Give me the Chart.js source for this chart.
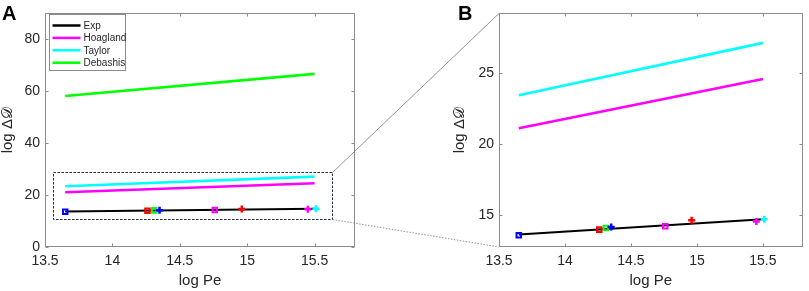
<!DOCTYPE html>
<html><head><meta charset="utf-8">
<script src="https://cdn.jsdelivr.net/npm/chart.js@4/dist/chart.umd.min.js"></script>
<style>
html,body{margin:0;padding:0;background:#fff;overflow:hidden}
#wrap{position:relative;width:809px;height:291px;background:#fff}
#wrap canvas{position:absolute;top:0}
#cA{left:0}
#cB{left:400px}
#ov{left:0;pointer-events:none}
</style></head><body>
<div id="wrap">
<canvas id="cA" width="400" height="291"></canvas>
<canvas id="cB" width="409" height="291"></canvas>
<canvas id="ov" width="809" height="291"></canvas>
</div>
<script>
// ---- data ----
const xTicks = [13.5, 14, 14.5, 15, 15.5];
const yTicksA = [0, 20, 40, 60, 80];
const yTicksB = [15, 20, 25];
const seriesNames = ['Exp', 'Hoagland', 'Taylor', 'Debashis'];
const fitPe = [13.65, 15.5];
const expFit = [13.64, 14.72];
const hoaglandVals = [21.1, 24.56];
const taylorVals = [23.42, 27.1];
const debashisVals = [58.2, 66.7];
const expPe = [13.65, 14.26, 14.31, 14.35, 14.76, 14.96, 15.45, 15.51];
const expVals = [13.6, 13.99, 14.11, 14.18, 14.23, 14.65, 14.56, 14.72];

// ---- styles ----
const FONT = "'Liberation Sans', Arial, 'DejaVu Sans', sans-serif";
const TXT = '#262626';
const FRAME = '#8c8c8c';
const seriesColors = ['#000000', '#ff00ff', '#00ffff', '#00ff00'];
const markerColors = ['#0000ff', '#ff0000', '#00ff00', '#0000ff', '#ff00ff', '#ff0000', '#ff00ff', '#00ffff'];
const markerShapes = ['rect', 'rect', 'rect', 'cross', 'rect', 'cross', 'cross', 'cross'];
const zoomBox = {x0: 13.56, x1: 15.63, y0: 10.7, y1: 29.0};
const yTitle = 'log Δ𝒟';

function toPts(xs, ys) { return xs.map((x, i) => ({x: x, y: ys[i]})); }

function buildDatasets() {
  const ds = [{
    label: 'Exp points', isMarker: true,
    data: toPts(expPe, expVals), showLine: false,
    pointStyle: markerShapes,
    pointRadius: markerShapes.map(s => s === 'rect' ? 3.2 : 3.5),
    pointBorderColor: markerColors,
    pointBackgroundColor: 'rgba(0,0,0,0)',
    pointBorderWidth: markerShapes.map(s => s === 'rect' ? 2 : 2.5),
    order: 0
  }];
  const vals = [expFit, hoaglandVals, taylorVals, debashisVals];
  seriesNames.forEach((n, i) => ds.push({
    label: n, data: toPts(fitPe, vals[i]),
    borderColor: seriesColors[i], backgroundColor: seriesColors[i],
    borderWidth: i === 0 ? 2 : 2.6, pointRadius: 0, showLine: true,
    order: i === 0 ? 1 : 2
  }));
  return ds;
}

function scalesCfg(yMin, yMax, yTicks, yWidth, titlePad) {
  return {
    x: {
      type: 'linear', min: 13.5, max: 15.8,
      afterBuildTicks: s => { s.ticks = xTicks.map(v => ({value: v})); },
      afterFit: s => { s.height = 44; },
      grid: {display: false, drawTicks: false}, border: {display: false},
      ticks: {padding: 6, color: TXT, font: {family: FONT, size: 14}, callback: v => String(v), maxRotation: 0, autoSkip: false},
      title: {display: true, text: 'log Pe', color: TXT, font: {family: FONT, size: 15, lineHeight: 1.2}, padding: {top: 0, bottom: 1}}
    },
    y: {
      type: 'linear', min: yMin, max: yMax,
      afterBuildTicks: s => { s.ticks = yTicks.map(v => ({value: v})); },
      afterFit: s => { s.width = yWidth; },
      grid: {display: false, drawTicks: false}, border: {display: false},
      ticks: {padding: 5, color: TXT, font: {family: FONT, size: 14}, callback: v => String(v), autoSkip: false},
      title: {display: true, text: yTitle, color: TXT, font: {family: FONT, size: 15, lineHeight: 1}, padding: {top: titlePad, bottom: 0}}
    }
  };
}

const framePlugin = {
  id: 'frame',
  beforeDatasetsDraw(chart) {
    const ctx = chart.ctx, a = chart.chartArea;
    const L = Math.round(a.left) + 0.5, R = Math.round(a.right) - 0.5;
    const T = Math.round(a.top) + 0.5, B = Math.round(a.bottom) - 0.5;
    ctx.save();
    ctx.strokeStyle = FRAME; ctx.lineWidth = 1;
    ctx.strokeRect(L, T, R - L, B - T);
    ctx.beginPath();
    chart.scales.x.ticks.forEach(t => {
      const px = Math.round(chart.scales.x.getPixelForValue(t.value)) + 0.5;
      ctx.moveTo(px, B); ctx.lineTo(px, B - 3);
      ctx.moveTo(px, T); ctx.lineTo(px, T + 3);
    });
    chart.scales.y.ticks.forEach(t => {
      const py = Math.round(chart.scales.y.getPixelForValue(t.value)) + 0.5;
      ctx.moveTo(L, py); ctx.lineTo(L + 3, py);
      ctx.moveTo(R, py); ctx.lineTo(R - 3, py);
    });
    ctx.stroke();
    ctx.restore();
  }
};

function panelLabel(text, x, y) {
  return {
    id: 'panel' + text,
    afterDraw(chart) {
      const ctx = chart.ctx;
      ctx.save();
      ctx.fillStyle = '#000';
      ctx.font = 'bold 20px ' + FONT;
      ctx.textBaseline = 'alphabetic';
      ctx.fillText(text, x, y);
      ctx.restore();
    }
  };
}

const zoomBoxPlugin = {
  id: 'zoomBox',
  afterDatasetsDraw(chart) {
    const ctx = chart.ctx, xs = chart.scales.x, ys = chart.scales.y;
    const x0 = xs.getPixelForValue(zoomBox.x0), x1 = xs.getPixelForValue(zoomBox.x1);
    const y0 = ys.getPixelForValue(zoomBox.y0), y1 = ys.getPixelForValue(zoomBox.y1);
    ctx.save();
    ctx.strokeStyle = '#1e2c4a'; ctx.lineWidth = 1; ctx.setLineDash([2.5, 1.5]);
    ctx.strokeRect(Math.round(x0) + 0.5, Math.round(y1) + 0.5, Math.round(x1 - x0), Math.round(y0 - y1));
    ctx.restore();
  }
};

const legendPlugin = {
  id: 'customLegend',
  afterDraw(chart) {
    const ctx = chart.ctx, a = chart.chartArea;
    const bx = Math.round(a.left) + 4.5, by = Math.round(a.top) + 1.5, bw = 76, bh = 56;
    ctx.save();
    ctx.fillStyle = '#fff'; ctx.fillRect(bx, by, bw, bh);
    ctx.strokeStyle = FRAME; ctx.lineWidth = 1; ctx.strokeRect(bx, by, bw, bh);
    const items = chart.data.datasets.filter(d => !d.isMarker);
    ctx.font = '10px ' + FONT; ctx.textBaseline = 'middle';
    items.forEach((d, i) => {
      const yy = by + 11 + i * 12.4;
      ctx.strokeStyle = d.borderColor; ctx.lineWidth = 2.5;
      ctx.beginPath(); ctx.moveTo(bx + 3, yy); ctx.lineTo(bx + 31, yy); ctx.stroke();
      ctx.fillStyle = TXT; ctx.fillText(d.label, bx + 34, yy + 0.5);
    });
    ctx.restore();
  }
};

const chartA = new Chart(document.getElementById('cA'), {
  type: 'line',
  data: {datasets: buildDatasets()},
  options: {
    responsive: false, animation: false, events: [],
    layout: {padding: {left: 0, top: 13, right: 45, bottom: 0}},
    plugins: {legend: {display: false}, tooltip: {enabled: false}},
    scales: scalesCfg(0, 90, yTicksA, 45, 0)
  },
  plugins: [framePlugin, zoomBoxPlugin, legendPlugin, panelLabel('A', 2, 20)]
});

const chartB = new Chart(document.getElementById('cB'), {
  type: 'line',
  data: {datasets: buildDatasets()},
  options: {
    responsive: false, animation: false, events: [],
    layout: {padding: {left: 52, top: 13, right: 1, bottom: 0}},
    plugins: {legend: {display: false}, tooltip: {enabled: false}},
    scales: scalesCfg(12.77, 29.17, yTicksB, 47, 0)
  },
  plugins: [framePlugin, panelLabel('B', 58, 20)]
});

function drawConnectors() {
  const ov = document.getElementById('ov');
  const ctx = ov.getContext('2d');
  ctx.clearRect(0, 0, ov.width, ov.height);
  const xs = chartA.scales.x, ys = chartA.scales.y;
  const ax = Math.round(xs.getPixelForValue(zoomBox.x1)) + 0.5;
  const ayTop = Math.round(ys.getPixelForValue(zoomBox.y1)) + 0.5;
  const ayBot = Math.round(ys.getPixelForValue(zoomBox.y0)) + 0.5;
  const cb = chartB.chartArea;
  const offB = 400;
  ctx.save();
  ctx.strokeStyle = '#7a7a7a'; ctx.lineWidth = 0.8;
  ctx.beginPath(); ctx.moveTo(ax, ayTop); ctx.lineTo(offB + cb.left, cb.top); ctx.stroke();
  ctx.setLineDash([1.5, 1.5]);
  ctx.beginPath(); ctx.moveTo(ax, ayBot); ctx.lineTo(offB + cb.left, cb.bottom); ctx.stroke();
  ctx.restore();
}
drawConnectors();
</script>
</body></html>
